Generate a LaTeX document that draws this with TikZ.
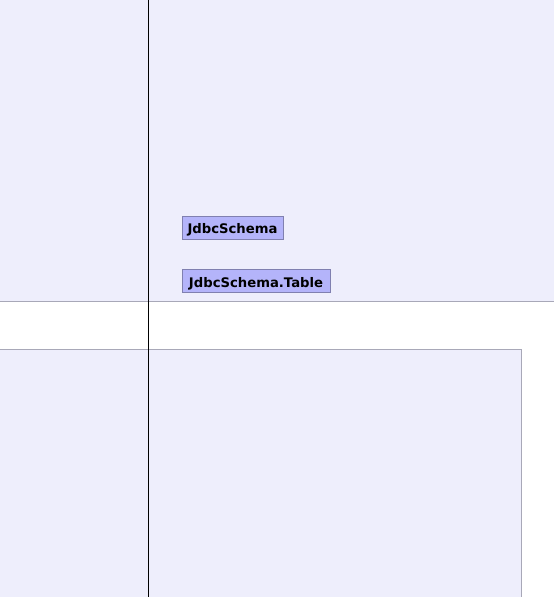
\documentclass[tikz,border=0pt]{standalone}
\usepackage{fontspec}
\setmainfont{DejaVu Sans}
\definecolor{lav}{RGB}{238,238,252}
\definecolor{edgegray}{RGB}{168,168,184}
\definecolor{nodefill}{RGB}{180,180,250}
\definecolor{nodeedge}{RGB}{128,128,176}
\begin{document}
\begin{tikzpicture}[x=1pt,y=-1pt,
  cls/.style={draw=nodeedge, fill=nodefill, line width=1pt, inner sep=0pt,
    minimum height=23pt, text height=12pt, text depth=0pt,
    font=\fontsize{13.2}{15}\selectfont\bfseries}]
\useasboundingbox (0,0) rectangle (554,597);
\fill[lav] (0,0) rectangle (554,301);
\draw[edgegray, line width=1pt] (0,301) -- (554,301);
\fill[lav] (0,349) rectangle (521,597);
\draw[edgegray, line width=1pt] (0,349) -- (521,349) -- (521,597);
\draw[black, line width=1pt] (148,0) -- (148,597);
\node[cls, minimum width=101pt] (schema) at (232.5,227.5) {JdbcSchema};
\node[cls, minimum width=148pt] (table) at (256,281) {JdbcSchema.Table};
\end{tikzpicture}
\end{document}
